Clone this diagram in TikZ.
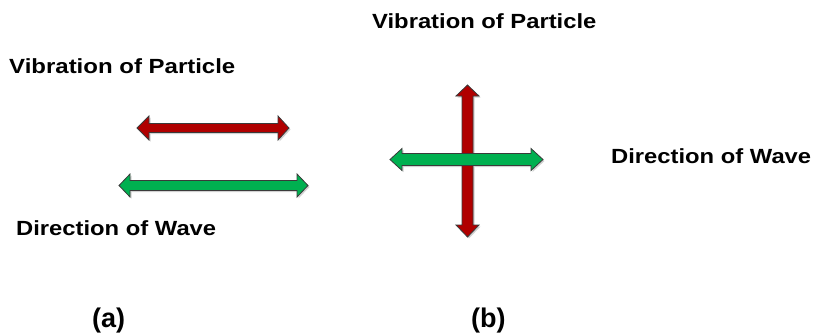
\documentclass[tikz,border=0pt]{standalone}
\usepackage{fontspec}
\setmainfont{Liberation Sans}
\usepackage{graphicx}
\definecolor{arrred}{HTML}{B00000}
\definecolor{arrgreen}{HTML}{00B050}
\definecolor{arredge}{HTML}{3A3A3A}
\begin{document}
\begin{tikzpicture}[x=1pt,y=-1pt,
  blockarr/.style={draw=arredge,line width=0.8pt,line join=miter},
  shadowarr/.style={fill=black!18,draw=none},
  lbl/.style={inner sep=0pt,anchor=base west,font=\fontsize{20.5}{23}\selectfont\bfseries},
  sublbl/.style={inner sep=0pt,anchor=base west,font=\fontsize{27}{30}\selectfont\bfseries}]
\useasboundingbox (0,0) rectangle (814,333);
% soft shadows
\begin{scope}[shift={(1.5,1.5)}]
\fill[shadowarr] (137,128) -- (149,116) -- (149,123.5) -- (278,123.5) -- (278,116) -- (289,128) -- (278,140) -- (278,132.5) -- (149,132.5) -- (149,140) -- cycle;
\fill[shadowarr] (119,185.5) -- (130,174) -- (130,180.5) -- (297,180.5) -- (297,174) -- (308,185.5) -- (297,197) -- (297,190.5) -- (130,190.5) -- (130,197) -- cycle;
\fill[shadowarr] (467.5,85) -- (479,96) -- (473,96) -- (473,225) -- (479,225) -- (467.5,237) -- (456,225) -- (462,225) -- (462,96) -- (456,96) -- cycle;
\fill[shadowarr] (390,159.5) -- (402,148.5) -- (402,153.5) -- (531,153.5) -- (531,148.5) -- (543,159.5) -- (531,170.5) -- (531,165.5) -- (402,165.5) -- (402,170.5) -- cycle;
\end{scope}
% (a) red arrow
\filldraw[blockarr,fill=arrred] (137,128) -- (149,116) -- (149,123.5) -- (278,123.5) -- (278,116) -- (289,128) -- (278,140) -- (278,132.5) -- (149,132.5) -- (149,140) -- cycle;
% (a) green arrow
\filldraw[blockarr,fill=arrgreen] (119,185.5) -- (130,174) -- (130,180.5) -- (297,180.5) -- (297,174) -- (308,185.5) -- (297,197) -- (297,190.5) -- (130,190.5) -- (130,197) -- cycle;
% (b) red vertical arrow
\filldraw[blockarr,fill=arrred] (467.5,85) -- (479,96) -- (473,96) -- (473,225) -- (479,225) -- (467.5,237) -- (456,225) -- (462,225) -- (462,96) -- (456,96) -- cycle;
% (b) green horizontal arrow
\filldraw[blockarr,fill=arrgreen] (390,159.5) -- (402,148.5) -- (402,153.5) -- (531,153.5) -- (531,148.5) -- (543,159.5) -- (531,170.5) -- (531,165.5) -- (402,165.5) -- (402,170.5) -- cycle;
% labels
\node[lbl] (vibA) at (9,73) {\scalebox{1.17}[1]{Vibration of Particle}};
\node[lbl] (dirA) at (16,235) {\scalebox{1.16}[1]{Direction of Wave}};
\node[lbl] (vibB) at (372,28) {\scalebox{1.16}[1]{Vibration of Particle}};
\node[lbl] (dirB) at (611,163) {\scalebox{1.16}[1]{Direction of Wave}};
\node[sublbl] (capA) at (92,327) {(a)};
\node[sublbl] (capB) at (471,327) {(b)};
\end{tikzpicture}
\end{document}
